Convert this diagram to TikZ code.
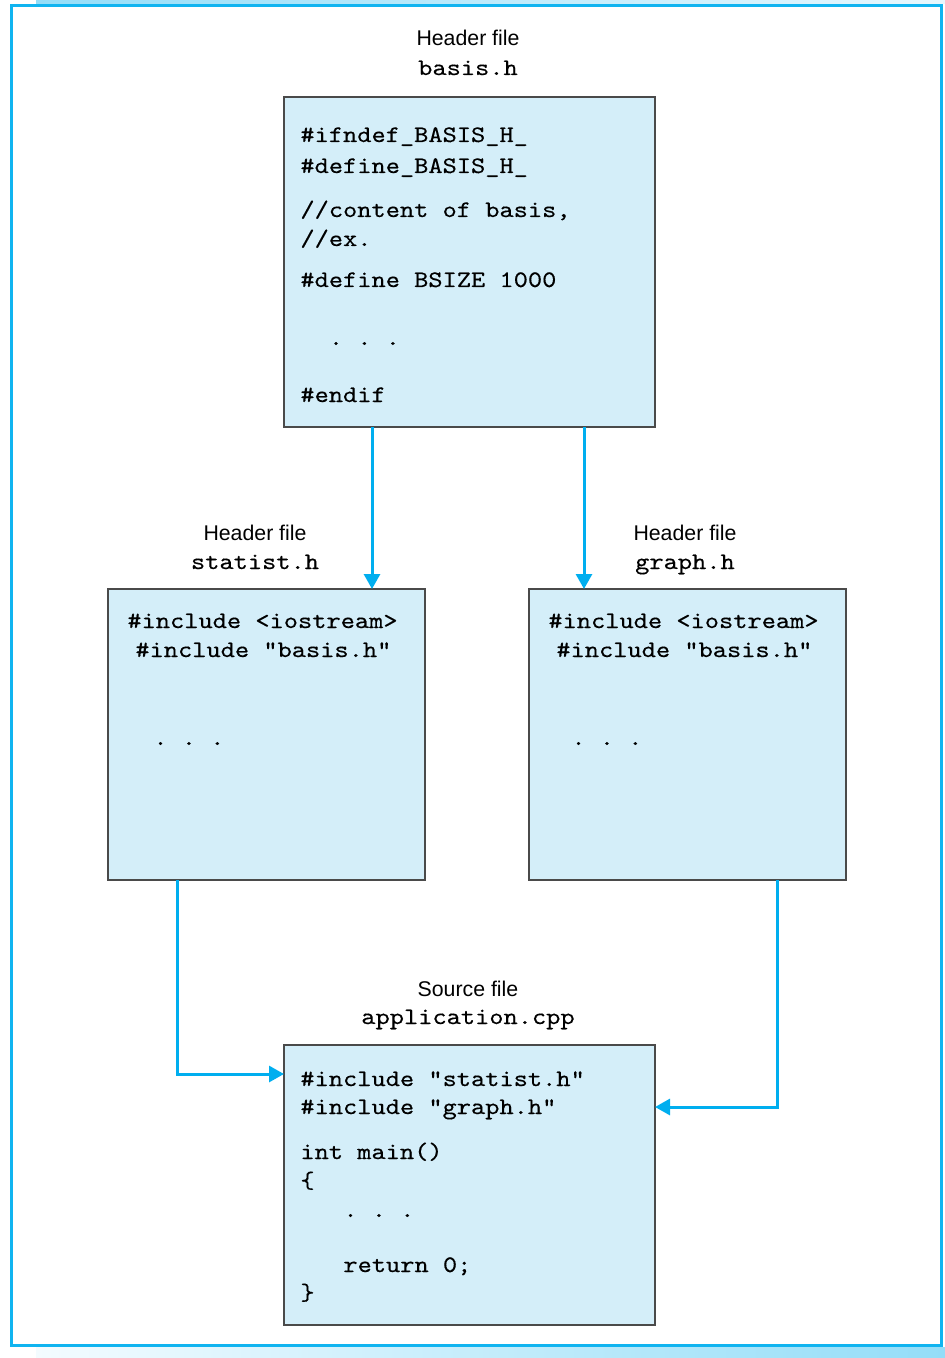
\documentclass[tikz,border=0pt]{standalone}
\usepackage{fontspec}
\setmainfont{Liberation Sans}
\newfontfamily\codefont{lmmono10-regular.otf}[FakeStretch=1.143,FakeBold=0.35]
\usetikzlibrary{arrows.meta,calc}
\definecolor{boxfill}{HTML}{D4EEF9}
\definecolor{boxline}{HTML}{4A4A4A}
\definecolor{arrcol}{HTML}{00AEEF}
\definecolor{framecol}{HTML}{10B4F0}
\tikzset{
  cbox/.style={draw=boxline, fill=boxfill, line width=0.6pt, inner sep=0pt, outer sep=0pt},
  code/.style={anchor=base west, inner sep=0pt, font=\codefont\fontsize{11.85}{14}\selectfont},
  lab/.style={anchor=base, inner sep=0pt, font=\fontsize{10.65}{13}\selectfont},
  labc/.style={anchor=base, inner sep=0pt, font=\codefont\fontsize{11.85}{14}\selectfont},
  arr/.style={draw=arrcol, line width=1.5pt, -{Triangle[length=7.5pt,width=8pt]}, arrcol}
}
\begin{document}
\begin{tikzpicture}[x=0.5pt,y=-0.5pt]
\useasboundingbox (0,0) rectangle (945,1358);
% frame and strips
\shade[left color=framecol!45, right color=framecol!10] (36,0) rectangle (945,4);
\shade[left color=framecol!5, right color=framecol!45] (36,1347) rectangle (945,1358);
\draw[framecol, line width=1.6pt] (11.5,5.5) rectangle (941.5,1345.5);
% boxes
\node[cbox, minimum width=185.5pt, minimum height=165pt] (basis) at (469.5,262) {};
\node[cbox, minimum width=158.5pt, minimum height=145.5pt] (statist) at (266.5,734.5) {};
\node[cbox, minimum width=158.5pt, minimum height=145.5pt] (graph) at (687.5,734.5) {};
\node[cbox, minimum width=185.5pt, minimum height=140pt] (app) at (469.5,1185) {};
% labels
\node[lab] (l1a) at (468,46) {Header file};
\node[labc] (l1b) at (468,75) {basis.h};
\node[lab] (l2a) at (255,540) {Header file};
\node[labc] (l2b) at (255,569) {statist.h};
\node[lab] (l3a) at (685,540) {Header file};
\node[labc] (l3b) at (685,569) {graph.h};
\node[lab] (l4a) at (468,996) {Source file};
\node[labc] (l4b) at (468,1024) {application.cpp};
% basis code
\node[code] (b1) at (300,142) {\#ifndef\_BASIS\_H\_};
\node[code] (b2) at (300,173) {\#define\_BASIS\_H\_};
\node[code] (b3) at (300,217) {//content of basis,};
\node[code] (b4) at (300,246) {//ex.};
\node[code] (b5) at (300,287) {\#define BSIZE 1000};
\node[code] (b6) at (328.5,345) {.\ .\ .};
\node[code] (b7) at (300,402) {\#endif};
% statist code
\node[code] (s1) at (127,628) {\#include <iostream>};
\node[code] (s2) at (135,657) {\#include "basis.h"};
\node[code] (s3) at (153,745) {.\ .\ .};
% graph code
\node[code] (g1) at (548,628) {\#include <iostream>};
\node[code] (g2) at (556,657) {\#include "basis.h"};
\node[code] (g3) at (571,745) {.\ .\ .};
% app code
\node[code] (a1) at (300,1086) {\#include "statist.h"};
\node[code] (a2) at (300,1114) {\#include "graph.h"};
\node[code] (a3) at (300,1159) {int main()};
\node[code] (a4) at (300,1188) {\{};
\node[code] (a5) at (343,1217) {.\ .\ .};
\node[code] (a6) at (343,1272) {return 0;};
\node[code] (a7) at (300,1300) {\}};
% arrows
\draw[arr] ([xshift=-48.75pt]basis.south) -- ([xshift=-48.75pt]basis.south |- statist.north);
\draw[arr] ([xshift=57.25pt]basis.south) -- ([xshift=57.25pt]basis.south |- graph.north);
\draw[arr] ([xshift=-44.75pt]statist.south) |- ([yshift=55.5pt]app.west);
\draw[arr] ([xshift=44.75pt]graph.south) |- ([yshift=39pt]app.east);
\end{tikzpicture}
\end{document}
